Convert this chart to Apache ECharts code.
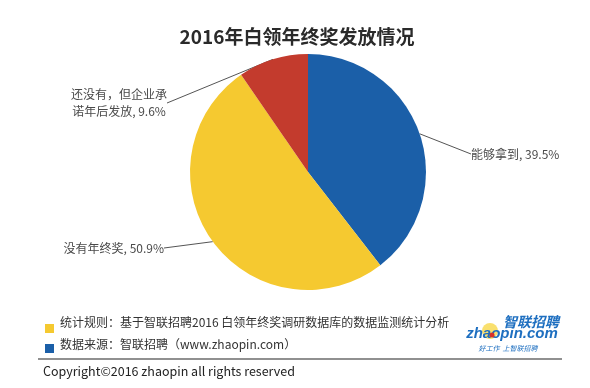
<!DOCTYPE html>
<html><head><meta charset="utf-8">
<script src="https://cdn.jsdelivr.net/npm/echarts@6/dist/echarts.min.js"></script>
<style>html,body{margin:0;padding:0;background:#fff}#c{width:590px;height:388px}</style>
</head><body><div id="c"></div>
<script>
const titleText = '2016年白领年终奖发放情况';
const categories = ['能够拿到', '没有年终奖', '还没有，但企业承\n诺年后发放'];
const values = [39.5, 50.9, 9.6];
const colors = ['#1b5fa8', '#f5c930', '#c33b2d'];
const noteLines = ['统计规则：基于智联招聘2016 白领年终奖调研数据库的数据监测统计分析', '数据来源：智联招聘（www.zhaopin.com）'];
const copyright = 'Copyright©2016 zhaopin all rights reserved';

const FONT = '"Noto Sans CJK SC", "Noto Sans", sans-serif';
const labelPos = [
  {x: 471, y: 154, align: 'left'},
  {x: 164, y: 248, align: 'right'},
  {x: 119, y: 103, align: 'center'}
];

const chart = echarts.init(document.getElementById('c'));
chart.setOption({
  backgroundColor: '#fff',
  animation: false,
  title: {
    text: titleText, left: 292, top: 22, textAlign: 'center',
    textStyle: {fontFamily: FONT, fontSize: 19, fontWeight: 'bold', color: '#2a2a2a'}
  },
  series: [{
    type: 'pie',
    center: [308, 172],
    radius: 118,
    startAngle: 90,
    clockwise: true,
    data: categories.map((n, i) => ({name: n, value: values[i], itemStyle: {color: colors[i]}})),
    label: {
      show: true, position: 'outside',
      fontFamily: FONT, fontSize: 12, color: '#4a4a4a', lineHeight: 17,
      formatter: p => p.name + ', ' + p.value.toFixed(1) + '%'
    },
    labelLine: {show: true, length: 10, length2: 0, lineStyle: {color: '#555', width: 1}},
    labelLayout: p => ({
      x: labelPos[p.dataIndex].x, y: labelPos[p.dataIndex].y,
      align: labelPos[p.dataIndex].align, verticalAlign: 'middle'
    })
  }],
  graphic: [
    {type: 'rect', shape: {x: 45, y: 324, width: 9, height: 9}, style: {fill: colors[1]}},
    {type: 'text', x: 60, y: 322, style: {text: noteLines[0], font: '12px ' + FONT, fill: '#333', verticalAlign: 'middle'}},
    {type: 'rect', shape: {x: 45, y: 344, width: 9, height: 9}, style: {fill: colors[0]}},
    {type: 'text', x: 60, y: 344, style: {text: noteLines[1], font: '12px ' + FONT, fill: '#333', verticalAlign: 'middle'}},
    {type: 'circle', shape: {cx: 490, cy: 331, r: 8}, style: {fill: '#f7d84a', opacity: 0.8}},
    {type: 'text', x: 531, y: 322, style: {text: '智联招聘', font: 'italic bold 14px ' + FONT, fill: '#1e6fc0', align: 'center', verticalAlign: 'middle'}},
    {type: 'text', x: 512, y: 334, style: {text: 'zhaopin.com', font: 'italic bold 15px "Liberation Sans", sans-serif', fill: '#1e6fc0', align: 'center', verticalAlign: 'middle'}},
    {type: 'circle', shape: {cx: 492, cy: 335, r: 2.5}, style: {fill: '#d8312a'}},
    {type: 'text', x: 508, y: 348, style: {text: '好工作  上智联招聘', font: 'italic 7px ' + FONT, fill: '#1e6fc0', align: 'center', verticalAlign: 'middle'}},
    {type: 'line', shape: {x1: 38, y1: 359, x2: 562, y2: 359}, style: {stroke: '#222', lineWidth: 1.2}},
    {type: 'text', x: 43, y: 371, style: {text: copyright, font: '12.5px ' + FONT, fill: '#222', verticalAlign: 'middle'}}
  ]
});
</script></body></html>
